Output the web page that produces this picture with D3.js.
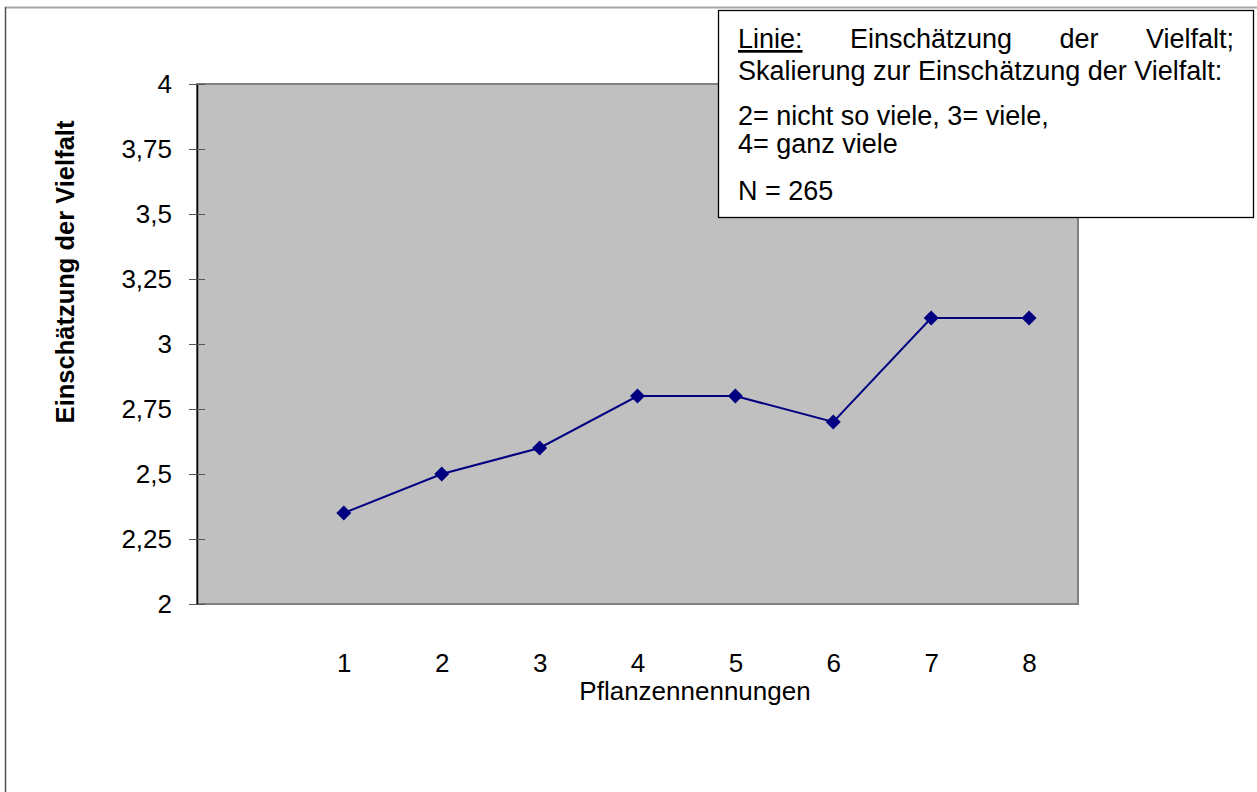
<!DOCTYPE html>
<html>
<head>
<meta charset="utf-8">
<script src="https://cdn.jsdelivr.net/npm/d3@7"></script>
<style>
  html, body { margin: 0; padding: 0; background: #fff; }
  svg { display: block; }
  text { font-family: "Liberation Sans", Arial, Helvetica, sans-serif; fill: #000; }
</style>
</head>
<body>
<svg id="chart" width="1257" height="792"></svg>
<script>
// Pflanzennennungen (number of plants named) and mean rating of diversity
const categories = [1, 2, 3, 4, 5, 6, 7, 8];
const values = [2.35, 2.5, 2.6, 2.8, 2.8, 2.7, 3.1, 3.1];
const yTicks = [2, 2.25, 2.5, 2.75, 3, 3.25, 3.5, 3.75, 4];
const xTitle = "Pflanzennennungen";
const yTitle = "Einschätzung der Vielfalt";
const headWords = ["Linie:", "Einschätzung", "der", "Vielfalt;"];
const noteLines = [
  "Skalierung zur Einschätzung der Vielfalt:",
  "2= nicht so viele, 3= viele,",
  "4= ganz viele",
  "N = 265"
];

const FONT = "Liberation Sans, Arial, Helvetica, sans-serif";
const FS = 26;
const BOX_FS = 27;

const svg = d3.select("#chart");
const plot = { left: 197, top: 84, right: 1078, bottom: 604 };

// outer chart frame (only top and left edges fall inside the page)
svg.append("line").attr("x1", 5).attr("x2", 1257).attr("y1", 7.5).attr("y2", 7.5)
  .attr("stroke", "#a8a8a8").attr("stroke-width", 2);
svg.append("line").attr("x1", 5.5).attr("x2", 5.5).attr("y1", 7).attr("y2", 792)
  .attr("stroke", "#505050").attr("stroke-width", 1.5);

const x = d3.scaleLinear().domain([-0.5, 8.5]).range([plot.left, plot.right]);
const y = d3.scaleLinear().domain([2, 4]).range([plot.bottom, plot.top]);

// plot area
svg.append("rect")
  .attr("x", plot.left).attr("y", plot.top)
  .attr("width", plot.right - plot.left).attr("height", plot.bottom - plot.top)
  .attr("fill", "#c0c0c0").attr("stroke", "#808080").attr("stroke-width", 2);

// y axis with ticks crossing the axis line
const yAxis = d3.axisLeft(y).tickValues(yTicks).tickSizeInner(8).tickSizeOuter(0).tickPadding(17)
  .tickFormat(d => d3.format("")(d).replace(".", ","));
const gy = svg.append("g").attr("transform", `translate(${plot.left},0)`).call(yAxis);
gy.select(".domain").attr("stroke", "#000").attr("stroke-width", 1.5);
gy.selectAll(".tick line").attr("x1", 8).attr("stroke", "#555");
gy.selectAll(".tick text").attr("font-size", FS).attr("font-family", FONT);

// x axis labels (no axis line or ticks)
const xAxis = d3.axisBottom(x).tickValues(categories).tickSize(0).tickPadding(0).tickFormat(d3.format("d"));
const gx = svg.append("g").attr("transform", `translate(0,${plot.bottom + 68})`).call(xAxis);
gx.select(".domain").remove();
gx.selectAll(".tick text").attr("dy", 0).attr("font-size", FS).attr("font-family", FONT);

// axis titles
svg.append("text").attr("x", 695).attr("y", 700).attr("text-anchor", "middle")
  .attr("font-size", FS).text(xTitle);
svg.append("text").attr("transform", "translate(74,272) rotate(-90)")
  .attr("text-anchor", "middle").attr("font-size", 25.5).attr("font-weight", "bold").text(yTitle);

// line series with diamond markers
const pts = categories.map((c, i) => ({ c, v: values[i] }));
svg.append("path").datum(pts)
  .attr("fill", "none").attr("stroke", "#000080").attr("stroke-width", 2)
  .attr("d", d3.line().x(d => x(d.c)).y(d => y(d.v)));
svg.append("g").selectAll("path").data(pts).join("path")
  .attr("transform", d => `translate(${x(d.c)},${y(d.v)})`)
  .attr("d", "M0,-7.5L7.5,0L0,7.5L-7.5,0Z")
  .attr("fill", "#000080");

// explanatory text box
const box = svg.append("g");
box.append("rect").attr("x", 718.5).attr("y", 10.5).attr("width", 535).attr("height", 207)
  .attr("fill", "#fff").attr("stroke", "#000").attr("stroke-width", 1.3);

// first line is justified across the box width
const textLeft = 738, textRight = 1234;
const head = box.selectAll("text.head").data(headWords).join("text")
  .attr("class", "head").attr("y", 48).attr("font-size", BOX_FS)
  .attr("text-decoration", (d, i) => i === 0 ? "underline" : null)
  .text(d => d);
const widths = head.nodes().map(n => n.getComputedTextLength());
const gap = (textRight - textLeft - d3.sum(widths)) / (headWords.length - 1);
let cursor = textLeft;
head.attr("x", (d, i) => { const xx = cursor; cursor += widths[i] + gap; return xx; });

const noteY = [80, 125, 153, 200];
noteLines.forEach((t, i) => {
  box.append("text").attr("x", textLeft).attr("y", noteY[i]).attr("font-size", BOX_FS).text(t);
});
</script>
</body>
</html>
